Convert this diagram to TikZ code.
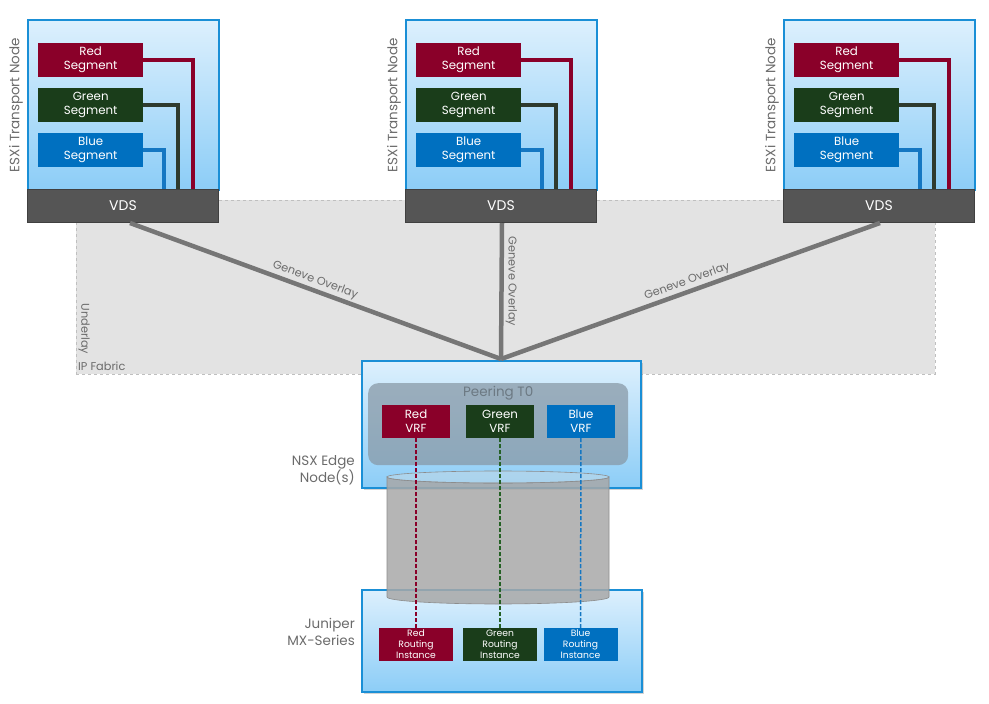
\documentclass[tikz,border=0pt]{standalone}
\usepackage{fontspec}
\setmainfont{Poppins}
\usetikzlibrary{positioning,shadows}
\definecolor{segred}{HTML}{8A0029}
\definecolor{seggreen}{HTML}{1A3D1A}
\definecolor{segblue}{HTML}{0070C0}
\definecolor{wirered}{HTML}{8A0029}
\definecolor{wiregreen}{HTML}{2E3A2E}
\definecolor{wireblue}{HTML}{1577C2}
\definecolor{boxedge}{HTML}{1A8FD6}
\definecolor{boxtop}{HTML}{DDF0FD}
\definecolor{boxbot}{HTML}{8CCDF7}
\definecolor{vdsgray}{HTML}{555555}
\definecolor{overlaygray}{HTML}{767676}
\definecolor{labelgray}{HTML}{6B6B6B}
\definecolor{fabricgray}{HTML}{E3E3E3}
\definecolor{peergray}{RGB}{135,151,164}
\definecolor{cylgray}{HTML}{A8A8A8}
\tikzset{
	lightbox/.style={draw=boxedge, line width=1.5pt, top color=boxtop, bottom color=boxbot, inner sep=0pt},
	vdsbox/.style={draw=black!75, line width=1pt, fill=vdsgray, text=white, minimum width=191, minimum height=33, inner sep=0pt, font=\fontsize{14}{16}\selectfont},
	segbox/.style={anchor=north west, text=white, align=center, minimum width=105, minimum height=34, inner sep=0pt, font=\fontsize{11.8}{14}\selectfont},
	vrfbox/.style={text=white, align=center, minimum width=68, minimum height=33, inner sep=0pt, font=\fontsize{11.8}{14}\selectfont},
	ribox/.style={text=white, align=center, minimum width=74, minimum height=33, inner sep=0pt, font=\fontsize{9.2}{11}\selectfont},
	wire/.style={line width=4pt},
	overlay/.style={draw=overlaygray, line width=4.5pt},
	vrflink/.style={line width=1.5pt, dash pattern=on 4pt off 2pt},
	sidelabel/.style={text=labelgray, font=\fontsize{13.5}{17}\selectfont, inner sep=0pt},
	linklabel/.style={text=labelgray, font=\fontsize{11.3}{13}\selectfont, inner sep=2pt},
	shade/.style={drop shadow={shadow xshift=2pt, shadow yshift=-2pt, opacity=0.35}},
}
\begin{document}
\begin{tikzpicture}[x=1pt, y=-1pt]
\useasboundingbox (0,0) rectangle (989,704);
% underlay
\node[draw=black!25, dashed, fill=fabricgray, anchor=north west, minimum width=859, minimum height=174, inner sep=0pt] (fabric) at (76,200) {};
\node[linklabel, rotate=-90, inner sep=0pt] at (84,329) {Underlay};
\node[linklabel, anchor=west, inner sep=0pt] at (78,366) {IP Fabric};
% transport nodes
\foreach \i/\hx in {1/27, 2/405, 3/783} {
	\node[lightbox, anchor=north west, minimum width=191, minimum height=170] (host\i) at (\hx,19) {};
	\node[vdsbox, anchor=north west] (vds\i) at (\hx,189) {VDS};
	\node[segbox, fill=segred] (red\i) at (\hx+11,43) {Red\\Segment};
	\node[segbox, fill=seggreen] (green\i) at (\hx+11,88) {Green\\Segment};
	\node[segbox, fill=segblue] (blue\i) at (\hx+11,133) {Blue\\Segment};
	\draw[wire, wirered] (red\i.east) -| ([xshift=166pt]vds\i.north west);
	\draw[wire, wiregreen] (green\i.east) -| ([xshift=151pt]vds\i.north west);
	\draw[wire, wireblue] (blue\i.east) -| ([xshift=137pt]vds\i.north west);
	\node[sidelabel, rotate=90] at (\hx-11,105) {ESXi Transport Node};
	};
% edge node and juniper
\coordinate (hub) at (501,359);
\node[lightbox, shade, anchor=north west, minimum width=279, minimum height=127] (edge) at (361,360) {};
\node[lightbox, shade, anchor=north west, minimum width=280, minimum height=102] (mx) at (361,589) {};
\node[fill=peergray, fill opacity=0.72, rounded corners=10pt, anchor=north west, minimum width=260, minimum height=82, inner sep=0pt] (peer) at (368,383) {};
\node[text=peergray!80!black, font=\fontsize{13.5}{15}\selectfont, inner sep=0pt, below=3pt of peer.north] {Peering T0};
\node[vrfbox, fill=segred] (redvrf) at (416,421.5) {Red\\VRF};
\node[vrfbox, fill=seggreen] (greenvrf) at (500,421.5) {Green\\VRF};
\node[vrfbox, fill=segblue] (bluevrf) at (581,421.5) {Blue\\VRF};
\node[ribox, fill=segred] (redri) at (416,644.5) {Red\\Routing\\Instance};
\node[ribox, fill=seggreen] (greenri) at (500,644.5) {Green\\Routing\\Instance};
\node[ribox, fill=segblue] (blueri) at (580.5,644.5) {Blue\\Routing\\Instance};
\node[sidelabel, align=right, anchor=east] at (355,470) {NSX Edge\\Node(s)};
\node[sidelabel, align=right, anchor=east] at (355,632) {Juniper\\MX-Series};
% cylinder
\filldraw[fill=cylgray, fill opacity=0.85, draw=black!45, line width=0.6pt] (387,477) arc[start angle=180, end angle=0, x radius=111, y radius=6] -- (609,597) arc[start angle=0, end angle=180, x radius=111, y radius=7] -- cycle;
\filldraw[fill=cylgray!60!boxedge!40, fill opacity=0.5, draw=black!45, line width=0.6pt] (498,477) ellipse [x radius=111, y radius=6];
% vrf links
\draw[vrflink, wirered] (redvrf) -- (redri);
\draw[vrflink, wiregreen!80!green] (greenvrf) -- (greenri);
\draw[vrflink, wireblue] (bluevrf) -- (blueri);
% overlay
\draw[overlay] ([xshift=7pt]vds1.south) -- node[linklabel, sloped, above, pos=0.49] {Geneve Overlay} (hub);
\draw[overlay] ([xshift=1pt]vds2.south) -- node[linklabel, rotate=-90, anchor=south, pos=0.43] {Geneve Overlay} (hub);
\draw[overlay] ([xshift=1pt]vds3.south) -- node[linklabel, sloped, above, pos=0.5] {Geneve Overlay} (hub);
\end{tikzpicture}
\end{document}
